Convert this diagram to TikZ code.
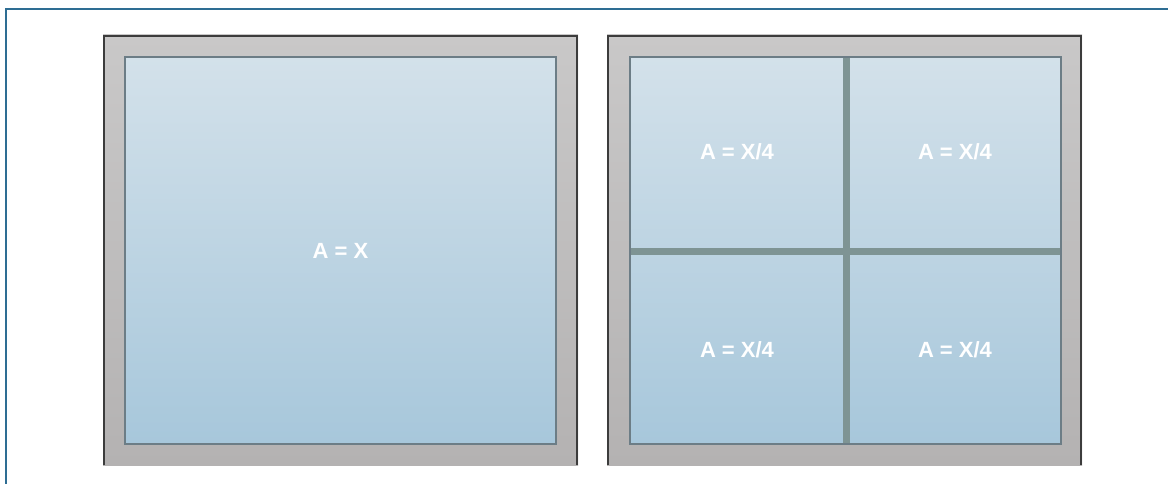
\documentclass[tikz,border=0pt]{standalone}
\usepackage{fontspec}
\setmainfont{Liberation Sans}
\definecolor{framec}{HTML}{2E6D93}
\definecolor{graytop}{HTML}{C9C8C8}
\definecolor{graybot}{HTML}{B4B2B2}
\definecolor{grayedge}{HTML}{3C3C3C}
\definecolor{innertop}{HTML}{D3E1EA}
\definecolor{innerbot}{HTML}{A7C7DB}
\definecolor{innerborder}{HTML}{6C7D86}
\definecolor{divider}{HTML}{7E9494}
\tikzset{
  outerpanel/.style={top color=graytop, bottom color=graybot},
  outeredge/.style={draw=grayedge, line width=2.5},
  innerpanel/.style={top color=innertop, bottom color=innerbot, draw=innerborder, line width=2},
  divbar/.style={fill=divider},
  lbl/.style={text=white, font=\bfseries\fontsize{22}{26}\selectfont, inner sep=0}
}
\begin{document}
\begin{tikzpicture}[x=1pt,y=-1pt]
\useasboundingbox (0,0) rectangle (1168,484);
\fill[white] (0,0) rectangle (1168,484);
\draw[framec, line width=2] (6,484) -- (6,9.5) -- (1168,9.5);
% left panel
\shade[outerpanel] (103,35) rectangle (578,465);
\draw[outeredge] (104.2,465) -- (104.2,36.2) -- (576.8,36.2) -- (576.8,465);
\shade[innerpanel] (125,57) rectangle (556,444);
\node[lbl] (a) at (340.5,250.5) {A = X};
% right panel
\shade[outerpanel] (607,35) rectangle (1082,465);
\draw[outeredge] (608.2,465) -- (608.2,36.2) -- (1080.8,36.2) -- (1080.8,465);
\shade[innerpanel] (630,57) rectangle (1061,444);
\fill[divbar] (842.5,58) rectangle (849.5,443);
\fill[divbar] (631,247.5) rectangle (1060,254.5);
\node[lbl] (q1) at (737,152) {A = X/4};
\node[lbl] (q2) at (955,152) {A = X/4};
\node[lbl] (q3) at (737,350) {A = X/4};
\node[lbl] (q4) at (955,350) {A = X/4};
\end{tikzpicture}
\end{document}
